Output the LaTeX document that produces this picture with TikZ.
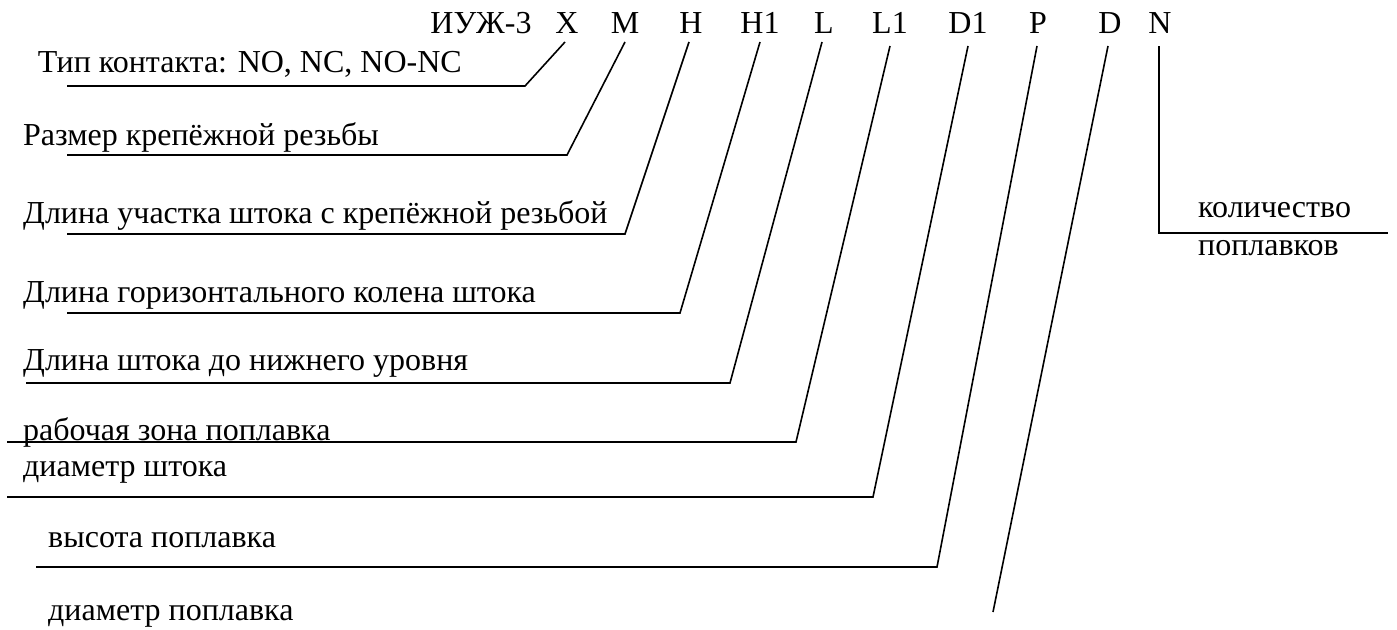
\documentclass[tikz,border=0pt]{standalone}
\usepackage{fontspec}
\setmainfont{Liberation Serif}
\begin{document}
\begin{tikzpicture}[x=1pt,y=-1pt,
  lbl/.style={inner sep=0pt, font=\fontsize{32}{38}\selectfont, anchor=base west},
  code/.style={inner sep=0pt, font=\fontsize{32}{38}\selectfont, anchor=base},
  lead/.style={line width=1.6pt, line join=miter}]
\useasboundingbox (0,0) rectangle (1397,629);
% top code row
\node[code] (t0) at (481,33) {ИУЖ-3};
\node[code] (tX) at (567,33) {X};
\node[code] (tM) at (625,33) {M};
\node[code] (tH) at (691,33) {H};
\node[code] (tH1) at (760,33) {H1};
\node[code] (tL) at (824,33) {L};
\node[code] (tL1) at (890,33) {L1};
\node[code] (tD1) at (968,33) {D1};
\node[code] (tP) at (1038,33) {P};
\node[code] (tD) at (1110,33) {D};
\node[code] (tN) at (1160,33) {N};
% labels
\node[lbl, anchor=base east] (lX) at (462,72) {Тип контакта: NO, NC, NO-NC};
\node[lbl] (lM) at (23,145) {Размер крепёжной резьбы};
\node[lbl] (lH) at (23,223) {Длина участка штока с крепёжной резьбой};
\node[lbl] (lH1) at (23,302) {Длина горизонтального колена штока};
\node[lbl] (lL) at (23,370) {Длина штока до нижнего уровня};
\node[lbl] (lL1) at (23,440) {рабочая зона поплавка};
\node[lbl] (lD1) at (23,476) {диаметр штока};
\node[lbl] (lP) at (48,547) {высота поплавка};
\node[lbl] (lD) at (48,620) {диаметр поплавка};
\node[lbl] (lN1) at (1198,217) {количество};
\node[lbl] (lN2) at (1198,255) {поплавков};
% leader points
\coordinate (aX) at (565,42);  \coordinate (bX) at (525,86);  \coordinate (cX) at (67,86);
\coordinate (aM) at (625,42);  \coordinate (bM) at (567,155); \coordinate (cM) at (67,155);
\coordinate (aH) at (689,42);  \coordinate (bH) at (625,234); \coordinate (cH) at (67,234);
\coordinate (aH1) at (760,42); \coordinate (bH1) at (680,313); \coordinate (cH1) at (67,313);
\coordinate (aL) at (822,42);  \coordinate (bL) at (730,383); \coordinate (cL) at (26,383);
\coordinate (aL1) at (890,46); \coordinate (bL1) at (796,442); \coordinate (cL1) at (7,442);
\coordinate (aD1) at (968,46); \coordinate (bD1) at (873,497); \coordinate (cD1) at (7,497);
\coordinate (aP) at (1037,46); \coordinate (bP) at (937,567); \coordinate (cP) at (36,567);
\coordinate (aD) at (1108,46); \coordinate (bD) at (993,612);
\coordinate (aN) at (1159,46); \coordinate (bN) at (1159,233); \coordinate (cN) at (1388,233);
% leaders
\draw[lead] (aX) -- (bX) -- (cX);
\draw[lead] (aM) -- (bM) -- (cM);
\draw[lead] (aH) -- (bH) -- (cH);
\draw[lead] (aH1) -- (bH1) -- (cH1);
\draw[lead] (aL) -- (bL) -- (cL);
\draw[lead] (aL1) -- (bL1) -- (cL1);
\draw[lead] (aD1) -- (bD1) -- (cD1);
\draw[lead] (aP) -- (bP) -- (cP);
\draw[lead] (aD) -- (bD);
\draw[lead] (aN) -- (bN) -- (cN);
\end{tikzpicture}
\end{document}
